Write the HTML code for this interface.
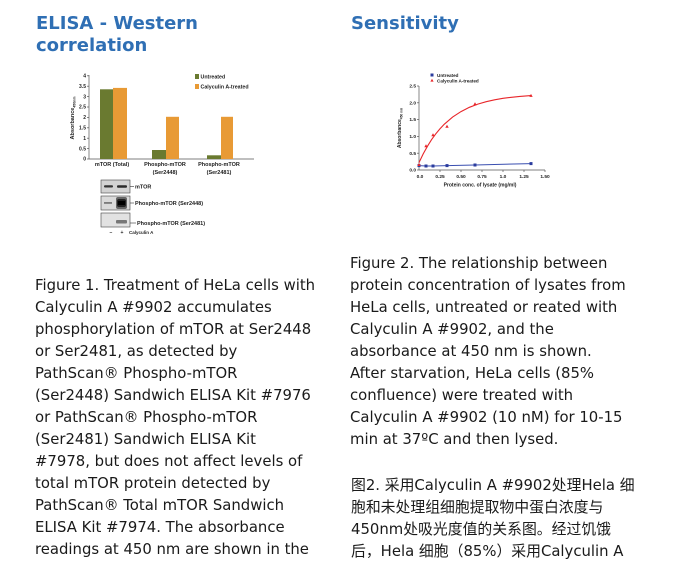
<!DOCTYPE html>
<html>
<head>
<meta charset="utf-8">
<style>
html,body{margin:0;padding:0;background:#fff;}
body{width:677px;height:564px;overflow:hidden;position:relative;}
.h{position:absolute;font-family:"DejaVu Sans","Liberation Sans",sans-serif;font-weight:bold;font-size:18px;line-height:22px;color:#2f6fb4;white-space:nowrap;}
.t{position:absolute;font-family:"DejaVu Sans","Liberation Sans","Noto Sans CJK SC",sans-serif;font-size:14.85px;line-height:22px;color:#1a1a1a;white-space:nowrap;}
svg{position:absolute;left:0;top:0;}
svg text{font-family:"Liberation Sans",Arial,sans-serif;font-weight:bold;fill:#222;}
</style>
</head>
<body>
<div class="h" style="left:36px;top:13px;">ELISA - Western<br>correlation</div>
<div class="h" style="left:351px;top:13px;">Sensitivity</div>

<div class="t" style="left:35px;top:274px;">Figure 1. Treatment of HeLa cells with<br>Calyculin A #9902 accumulates<br>phosphorylation of mTOR at Ser2448<br>or Ser2481, as detected by<br>PathScan® Phospho-mTOR<br>(Ser2448) Sandwich ELISA Kit #7976<br>or PathScan® Phospho-mTOR<br>(Ser2481) Sandwich ELISA Kit<br>#7978, but does not affect levels of<br>total mTOR protein detected by<br>PathScan® Total mTOR Sandwich<br>ELISA Kit #7974. The absorbance<br>readings at 450 nm are shown in the</div>

<div class="t" style="left:350px;top:252px;">Figure 2. The relationship between<br>protein concentration of lysates from<br>HeLa cells, untreated or reated with<br>Calyculin A #9902, and the<br>absorbance at 450 nm is shown.<br>After starvation, HeLa cells (85%<br>confluence) were treated with<br>Calyculin A #9902 (10 nM) for 10-15<br>min at 37ºC and then lysed.</div>

<div class="t" style="left:351px;top:474px;font-family:'DejaVu Sans','Noto Sans CJK SC',sans-serif;">图2. 采用Calyculin A #9902处理Hela 细<br>胞和未处理组细胞提取物中蛋白浓度与<br>450nm处吸光度值的关系图。经过饥饿<br>后，Hela 细胞（85%）采用Calyculin A</div>

<svg width="677" height="564" viewBox="0 0 677 564" xmlns="http://www.w3.org/2000/svg">
  <!-- LEFT BAR CHART -->
  <g stroke="#555" stroke-width="0.7" fill="none">
    <line x1="89" y1="75" x2="89" y2="159"/>
    <line x1="89" y1="159" x2="254" y2="159"/>
    <line x1="87" y1="75.8" x2="89" y2="75.8"/>
    <line x1="87" y1="86.2" x2="89" y2="86.2"/>
    <line x1="87" y1="96.6" x2="89" y2="96.6"/>
    <line x1="87" y1="107" x2="89" y2="107"/>
    <line x1="87" y1="117.4" x2="89" y2="117.4"/>
    <line x1="87" y1="127.8" x2="89" y2="127.8"/>
    <line x1="87" y1="138.2" x2="89" y2="138.2"/>
    <line x1="87" y1="148.6" x2="89" y2="148.6"/>
    <line x1="87" y1="159" x2="89" y2="159"/>
  </g>
  <g font-size="5" text-anchor="end">
    <text x="86" y="77.5">4</text>
    <text x="86" y="88">3.5</text>
    <text x="86" y="98.3">3</text>
    <text x="86" y="108.7">2.5</text>
    <text x="86" y="119.1">2</text>
    <text x="86" y="129.5">1.5</text>
    <text x="86" y="139.9">1</text>
    <text x="86" y="150.3">0.5</text>
    <text x="86" y="160.7">0</text>
  </g>
  <text x="0" y="0" font-size="5.5" text-anchor="middle" transform="translate(74,118) rotate(-90)">Absorbance<tspan font-size="3.5" dy="1.5">450nm</tspan></text>
  <!-- bars -->
  <rect x="100" y="89.3" width="13" height="69.7" fill="#6a7a30"/>
  <rect x="113" y="87.9" width="14" height="71.1" fill="#e89a35"/>
  <rect x="152" y="150" width="14" height="9" fill="#6a7a30"/>
  <rect x="166" y="116.8" width="13" height="42.2" fill="#e89a35"/>
  <rect x="207" y="155.3" width="14" height="3.7" fill="#6a7a30"/>
  <rect x="221" y="116.8" width="12" height="42.2" fill="#e89a35"/>
  <!-- legend -->
  <rect x="195" y="74" width="4" height="5" fill="#6a7a30"/>
  <text x="200.5" y="78.5" font-size="5.3">Untreated</text>
  <rect x="195" y="84" width="4" height="5" fill="#e89a35"/>
  <text x="200.5" y="88.5" font-size="5.3">Calyculin A-treated</text>
  <!-- x labels -->
  <g font-size="5.5" text-anchor="middle">
    <text x="112" y="166">mTOR (Total)</text>
    <text x="165" y="166">Phospho-mTOR</text>
    <text x="165" y="174">(Ser2448)</text>
    <text x="219" y="166">Phospho-mTOR</text>
    <text x="219" y="174">(Ser2481)</text>
  </g>

  <!-- WESTERN BLOT -->
  <rect x="101" y="180" width="29" height="13" fill="#d2d2d2" stroke="#444" stroke-width="0.6"/>
  <rect x="104" y="185.3" width="9" height="2.2" rx="1" fill="#333"/>
  <rect x="117" y="185.2" width="10" height="2.6" rx="1" fill="#2a2a2a"/>
  <line x1="130" y1="186.5" x2="134" y2="186.5" stroke="#333" stroke-width="0.6"/>
  <text x="135" y="188.5" font-size="5.5">mTOR</text>

  <rect x="101" y="196" width="29" height="14" fill="#dadada" stroke="#444" stroke-width="0.6"/>
  <rect x="104" y="202.3" width="8" height="1.3" fill="#555"/>
  <rect x="116" y="197" width="11" height="12" rx="2" fill="#666"/>
  <rect x="117" y="199" width="9" height="8" rx="2" fill="#222"/>
  <rect x="118" y="201" width="7" height="4" fill="#000"/>
  <line x1="130" y1="203" x2="134" y2="203" stroke="#333" stroke-width="0.6"/>
  <text x="135" y="205" font-size="5.5">Phospho-mTOR (Ser2448)</text>

  <rect x="101" y="213" width="29" height="14" fill="#e2e2e2" stroke="#444" stroke-width="0.6"/>
  <rect x="116" y="220" width="11" height="3.5" rx="1" fill="#777"/>
  <line x1="130" y1="223" x2="136" y2="223" stroke="#333" stroke-width="0.6"/>
  <text x="137" y="225" font-size="5.5">Phospho-mTOR (Ser2481)</text>

  <text x="109.5" y="234" font-size="5">–</text>
  <text x="120.5" y="234" font-size="5">+</text>
  <text x="129" y="234" font-size="4.5">Calyculin A</text>

  <!-- RIGHT LINE CHART -->
  <g stroke="#555" stroke-width="0.7" fill="none">
    <line x1="419" y1="86" x2="419" y2="170"/>
    <line x1="419" y1="170" x2="545" y2="170"/>
    <line x1="417" y1="86" x2="419" y2="86"/>
    <line x1="417" y1="102.8" x2="419" y2="102.8"/>
    <line x1="417" y1="119.6" x2="419" y2="119.6"/>
    <line x1="417" y1="136.4" x2="419" y2="136.4"/>
    <line x1="417" y1="153.2" x2="419" y2="153.2"/>
    <line x1="417" y1="170" x2="419" y2="170"/>
    <line x1="440" y1="170" x2="440" y2="172"/>
    <line x1="461" y1="170" x2="461" y2="172"/>
    <line x1="482" y1="170" x2="482" y2="172"/>
    <line x1="503" y1="170" x2="503" y2="172"/>
    <line x1="524" y1="170" x2="524" y2="172"/>
    <line x1="545" y1="170" x2="545" y2="172"/>
  </g>
  <g font-size="4.8" text-anchor="end">
    <text x="416" y="87.6">2.5</text>
    <text x="416" y="104.4">2.0</text>
    <text x="416" y="121.2">1.5</text>
    <text x="416" y="138">1.0</text>
    <text x="416" y="154.8">0.5</text>
    <text x="416" y="171.6">0.0</text>
  </g>
  <g font-size="4.8" text-anchor="middle">
    <text x="420" y="178">0.0</text>
    <text x="440" y="178">0.25</text>
    <text x="461" y="178">0.50</text>
    <text x="482" y="178">0.75</text>
    <text x="503" y="178">1.0</text>
    <text x="524" y="178">1.25</text>
    <text x="545" y="178">1.50</text>
  </g>
  <text x="480" y="186.5" font-size="5" text-anchor="middle">Protein conc. of lysate (mg/ml)</text>
  <text x="0" y="0" font-size="5" text-anchor="middle" transform="translate(401,128) rotate(-90)">Absorbance<tspan font-size="3.3" dy="1.4">450 nm</tspan></text>

  <!-- blue series -->
  <polyline points="419,165.6 426,166 433,166 447,165.6 475,165 531,163.6" fill="none" stroke="#3a4fb0" stroke-width="1"/>
  <g fill="#2b3c9e">
    <rect x="417.5" y="164.1" width="3" height="3"/>
    <rect x="424.5" y="164.5" width="3" height="3"/>
    <rect x="431.5" y="164.5" width="3" height="3"/>
    <rect x="445.5" y="164.1" width="3" height="3"/>
    <rect x="473.5" y="163.5" width="3" height="3"/>
    <rect x="529.5" y="162.1" width="3" height="3"/>
  </g>
  <!-- red series -->
  <polyline points="419,162.6 423.2,153.9 427.4,146.3 431.6,139.6 435.8,133.8 440,128.8 444.2,124.3 452.6,117.1 461,111.6 469.4,107.3 477.8,104.1 486.2,101.7 494.6,99.8 503,98.3 511.4,97.3 519.8,96.4 531,95.6" fill="none" stroke="#e8262a" stroke-width="1.1"/>
  <g fill="#e8262a">
    <polygon points="419,163 417.3,166 420.7,166"/>
    <polygon points="426,144.3 424.3,147.3 427.7,147.3"/>
    <polygon points="433,133.2 431.3,136.2 434.7,136.2"/>
    <polygon points="447,124.8 445.3,127.8 448.7,127.8"/>
    <polygon points="475,102.3 473.3,105.3 476.7,105.3"/>
    <polygon points="531,93.9 529.3,96.9 532.7,96.9"/>
  </g>
  <!-- legend -->
  <rect x="430.5" y="73.5" width="3" height="3" fill="#2b3c9e"/>
  <text x="437" y="76.8" font-size="4.6" font-weight="normal">Untreated</text>
  <polygon points="432,78.8 430.4,81.6 433.6,81.6" fill="#e8262a"/>
  <text x="437" y="82.3" font-size="4.6" font-weight="normal">Calyculin A-treated</text>
</svg>
</body>
</html>
